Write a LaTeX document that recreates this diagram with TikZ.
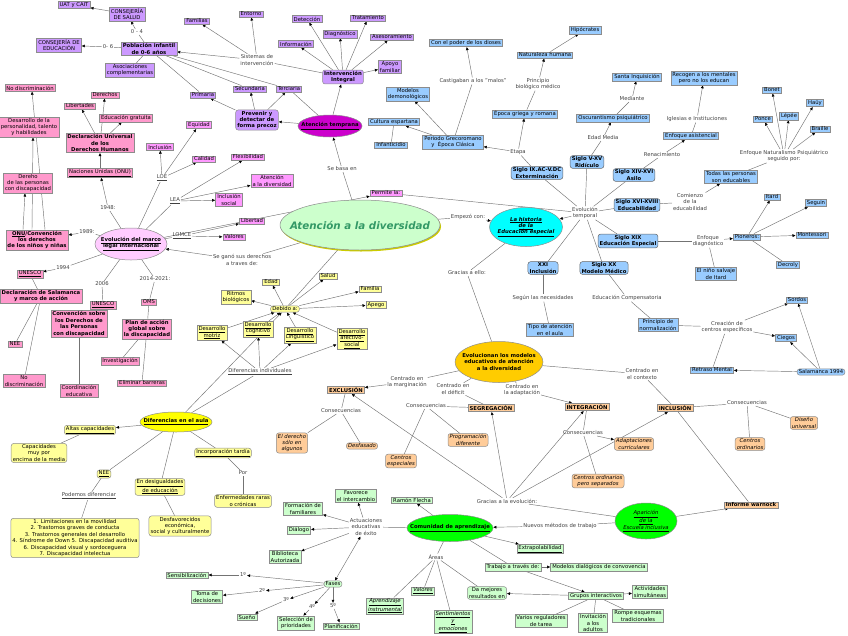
\documentclass[tikz,border=0pt]{standalone}
\usepackage{fontspec}
\setmainfont{DejaVu Sans}
\usetikzlibrary{arrows.meta, positioning, shapes.geometric, backgrounds, shadows}

\definecolor{lila}{RGB}{204,153,255}
\definecolor{rosa}{RGB}{255,153,204}
\definecolor{fucsia}{RGB}{255,153,255}
\definecolor{rosita}{RGB}{255,204,255}
\definecolor{magentao}{RGB}{204,0,204}
\definecolor{celeste}{RGB}{153,204,255}
\definecolor{cian}{RGB}{0,255,255}
\definecolor{crema}{RGB}{255,255,153}
\definecolor{amarillo}{RGB}{255,255,0}
\definecolor{oro}{RGB}{255,204,0}
\definecolor{durazno}{RGB}{255,204,153}
\definecolor{menta}{RGB}{204,255,204}
\definecolor{verdevivo}{RGB}{0,255,0}
\definecolor{verdeletra}{RGB}{51,153,102}

\begin{document}
\begin{tikzpicture}[x=1pt, y=-1pt,
    box/.style={draw=black!45, line width=0.5pt, inner xsep=1.6pt, inner ysep=1.1pt, align=center, font=\fontsize{5.3}{6.4}\selectfont},
    bold/.style={font=\fontsize{5.3}{6.4}\selectfont\bfseries},
    ital/.style={font=\fontsize{5.3}{6.4}\selectfont\itshape},
    rnd/.style={rounded corners=2.5pt},
    tempbox/.style={box, fill=lila},
    legbox/.style={box, fill=rosa},
    leybox/.style={box, fill=fucsia},
    hisbox/.style={box, fill=celeste},
    siglo/.style={box, fill=celeste, rnd, bold, draw=black!60},
    difbox/.style={box, fill=crema},
    modbox/.style={box, fill=durazno},
    comubox/.style={box, fill=menta},
    ell/.style={ellipse, draw=black!45, line width=0.5pt, inner sep=0pt},
    etx/.style={align=center, inner sep=0pt, font=\fontsize{5.3}{6.4}\selectfont\bfseries},
    lbl/.style={inner sep=0.8pt, align=center, text=black!75, font=\fontsize{5.3}{6.4}\selectfont},
    con/.style={draw=black!55, line width=0.45pt},
    arr/.style={con, -{Latex[length=3.2pt, width=3pt, color=black]}},
    dar/.style={con, {Latex[length=3.2pt, width=3pt, color=black]}-{Latex[length=3.2pt, width=3pt, color=black]}}
]
\useasboundingbox (0,0) rectangle (848,635);

\node[tempbox] (uat) at (74,5) {UAT y CAIT};
\node[tempbox] (csal) at (127,14) {CONSEJERÍA\\DE SALUD};
\node[tempbox] (cedu) at (59,45) {CONSEJERÍA DE\\EDUCACIÓN};
\node[tempbox, bold] (pobl) at (149,49) {Población infantil\\de 0-6 años};
\node[tempbox] (asoc) at (130,70) {Asociaciones\\complementarias};
\node[tempbox] (fami) at (197,21) {Familias};
\node[tempbox] (ento) at (251,14) {Entorno};
\node[tempbox] (prim) at (203,95) {Primaria};
\node[tempbox] (secu) at (250,89) {Secundaria};
\node[tempbox] (terc) at (289,89) {Terciaria};
\node[tempbox, bold, rnd] (prev) at (257,120) {Prevenir y\\detectar de\\forma precoz};
\node[tempbox] (info) at (296,44) {Información};
\node[tempbox] (dete) at (307,19) {Detección};
\node[tempbox] (diag) at (340,34) {Diagnóstico};
\node[tempbox] (trat) at (368,18) {Tratamiento};
\node[tempbox] (ases) at (392,37) {Asesoramiento};
\node[tempbox] (apoy) at (390,67) {Apoyo\\familiar};
\node[tempbox, bold, rnd] (inte) at (343,77) {Intervención\\Integral};
\node[ell, fill=magentao, minimum width=64pt, minimum height=22pt, label={[etx]center:\underline{Atención temprana}}] (atem) at (330,126) {};
\node[lbl] (l04) at (137,32) {0 - 4};
\node[lbl] (l06) at (108,47) {0- 6};
\node[lbl] (lsis) at (257,60) {Sistemas de\\intervención};
\node[lbl] (lbas) at (342,169) {Se basa en};

\node[legbox] (nod1) at (30,88) {No discriminación};
\node[legbox] (desa) at (29,127) {Desarrollo de la\\personalidad, talento\\y habilidades};
\node[legbox] (dere) at (28,183) {Dereho\\de las personas\\con discapacidad};
\node[legbox, bold] (onuc) at (37,240) {\underline{ONU}/Convención\\los derechos\\de los niños y niñas};
\node[legbox] (libs) at (80,106) {Libertades};
\node[legbox] (ders) at (105,95) {Derechos};
\node[legbox] (edug) at (126,118) {Educación gratuita};
\node[legbox, bold] (dudh) at (100,143) {Declaración Universal\\de los\\Derechos Humanos};
\node[legbox] (onu) at (100,173) {\underline{Naciones Unidas (ONU)}};
\node[ell, fill=rosita, minimum width=72pt, minimum height=32pt, label={[etx]center:{\underline{Evolución del marco}\\\underline{legal internacional}}}] (evol) at (131,244) {};
\node[legbox] (une1) at (30,274) {\underline{UNESCO}};
\node[legbox, bold] (dsal) at (41,296) {Declaración de Salamanca\\y marco de acción};
\node[legbox] (nee1) at (15,344) {NEE};
\node[legbox] (nod2) at (24,381) {No\\discriminación};
\node[legbox] (une2) at (103,305) {\underline{UNESCO}};
\node[legbox, bold] (conv) at (79,324) {Convención sobre\\los Derechos de\\las Personas\\con discapacidad};
\node[legbox] (coor) at (79,391) {Coordinación\\educativa};
\node[legbox] (oms) at (149,302) {OMS};
\node[legbox, bold] (plan) at (147,329) {Plan de acción\\global sobre\\la discapacidad};
\node[legbox] (inve) at (120,361) {Investigación};
\node[legbox] (elim) at (142,383) {Eliminar barreras};
\node[lbl] (l1948) at (108,208) {1948:};
\node[lbl] (l1989) at (87,232) {1989:};
\node[lbl] (l1994) at (63,268) {1994};
\node[lbl] (l2006) at (102,284) {2006};
\node[lbl] (l2014) at (155,279) {2014-2021:};

\node[leybox] (equi) at (199,125) {Equidad};
\node[leybox] (incl) at (160,147) {Inclusión};
\node[leybox] (cali) at (204,159) {Calidad};
\node[leybox] (flex) at (248,157) {Flexibilidad};
\node[leybox] (atdi) at (272,181) {Atención\\a la diversidad};
\node[leybox] (incs) at (229,200) {Inclusión\\social};
\node[leybox] (libe) at (252,221) {Libertad};
\node[leybox] (valo) at (234,237) {Valores};
\node[leybox] (perm) at (386,193) {Permite la:};
\node[lbl] (lloe) at (162,178) {\underline{LOE}};
\node[lbl] (llea) at (175,201) {\underline{LEA}};
\node[lbl] (llom) at (182,236) {\underline{LOMCE}};
\node[lbl] (lgan) at (242,260) {Se ganó sus derechos\\a traves de:};

\node[ell, fill=menta, drop shadow={fill=amarillo!80!black, opacity=1, shadow xshift=1pt, shadow yshift=-1.5pt}, minimum width=160pt, minimum height=50pt, label={[etx, font=\fontsize{10.3}{12}\selectfont\bfseries\itshape, text=verdeletra]center:Atención a la diversidad}] (atdiv) at (360,225) {};

\node[difbox] (edad) at (271,282) {Edad};
\node[difbox] (ritm) at (236,297) {Ritmos\\biológicos};
\node[difbox, rnd] (debi) at (285,309) {Debido a:};
\node[difbox] (salu) at (328,276) {Salud};
\node[difbox] (fmla) at (370,289) {Familia};
\node[difbox] (apeg) at (376,305) {Apego};
\node[difbox] (dmot) at (212,333) {\underline{Desarrollo}\\\underline{motriz}};
\node[difbox] (dcog) at (258,329) {\underline{Desarrollo}\\\underline{cognitivo}};
\node[difbox] (dlin) at (300,335) {\underline{Desarrollo}\\\underline{Linguistico}};
\node[difbox] (dafe) at (352,339) {\underline{Desarrollo}\\\underline{afectivo-}\\\underline{social}};
\node[lbl] (ldif) at (260,372) {\underline{Diferencias individuales}};
\node[ell, fill=amarillo, minimum width=72pt, minimum height=20pt, label={[etx]center:\underline{Diferencias en el aula}}] (difa) at (176,422) {};
\node[difbox, rnd] (altc) at (90,430) {\underline{Altas capacidades}};
\node[difbox, rnd] (capm) at (39,453) {Capacidades\\muy por\\encima de la media};
\node[difbox, rnd] (nee2) at (104,474) {\underline{NEE}};
\node[lbl] (lpod) at (89,496) {\underline{Podemos diferenciar}};
\node[difbox, rnd] (ende) at (160,487) {\underline{En desigualdades}\\\underline{de educación}};
\node[difbox, rnd] (inct) at (223,453) {\underline{Incorporación tardía}};
\node[lbl] (lpor) at (243,473) {Por};
\node[difbox, rnd] (enfr) at (243,501) {Enfermedades raras\\o crónicas};
\node[difbox, rnd] (lim) at (75,538) {1. Limitaciones en la movilidad\\2. Trastornos graves de conducta\\3. Trastornos generales del desarrollo\\4. Síndrome de Down 5. Discapacidad auditiva\\6. Discapacidad visual y sordoceguera\\7. Discapacidad intelectua};
\node[difbox, rnd] (desf) at (180,526) {Desfavorecidos\\económica,\\social y culturalmente};

\node[ell, fill=cian, minimum width=73pt, minimum height=39pt, label={[etx, font=\fontsize{5.3}{6.4}\selectfont\bfseries\itshape]center:{\underline{La historia}\\\underline{de la}\\\underline{Educación especial}}}] (hist) at (526,227) {};
\node[lbl] (lemp) at (468,217) {Empezó con:};
\node[lbl] (levt) at (585,213) {Evolución\\temporal};
\node[siglo] (s9) at (537,173) {Siglo IX.AC-V.DC\\Exterminación};
\node[siglo] (s5) at (587,162) {Siglo V-XV\\Ridículo};
\node[siglo] (s14) at (634,175) {Siglo XIV-XVI\\Asilo};
\node[siglo] (s16) at (637,205) {Siglo XVI-XVIII\\Educabilidad};
\node[siglo] (s19) at (628,241) {Siglo XIX\\Educación Especial};
\node[siglo] (s20) at (604,268) {Siglo XX\\Modelo Médico};
\node[siglo] (s21) at (543,268) {XXI\\Inclusión};
\node[lbl] (lseg) at (543,298) {Según las necesidades};
\node[hisbox] (tipo) at (550,330) {Tipo de atención\\en el aula};
\node[hisbox] (peri) at (453,142) {Periodo Grecoromano\\y\ \ Época Clásica};
\node[hisbox] (mode) at (408,94) {Modelos\\demonológicos};
\node[hisbox] (cult) at (394,122) {Cultura espartana};
\node[hisbox] (infa) at (391,145) {Infanticidio};
\node[hisbox] (pode) at (466,43) {Con el poder de los dioses};
\node[lbl] (lcas) at (473,81) {Castigaban a los "malos"};
\node[hisbox] (natu) at (545,55) {Naturaleza humana};
\node[lbl] (lpri) at (538,84) {Principio\\biológico médico};
\node[hisbox] (epoc) at (525,114) {Época griega y romana};
\node[hisbox] (hipo) at (585,30) {Hipócrates};
\node[lbl] (leta) at (518,152) {Etapa};
\node[hisbox] (sant) at (637,77) {Santa Inquisición};
\node[lbl] (lmed) at (632,99) {Mediante};
\node[hisbox] (oscu) at (613,118) {Oscurantismo psiquiátrico};
\node[lbl] (ledm) at (603,138) {Edad Media};
\node[hisbox] (reco) at (704,78) {Recogen a los mentales\\pero no los educan};
\node[lbl] (lige) at (697,119) {Iglesias e Instituciones};
\node[hisbox] (enfa) at (691,136) {Enfoque asistencial};
\node[lbl] (lren) at (662,155) {Renacimiento};
\node[lbl] (lcom) at (690,202) {Comienzo\\de la\\educabilidad};
\node[hisbox] (toda) at (731,177) {Todas las personas\\son educables};
\node[lbl] (lnat) at (784,156) {Enfoque Naturalismo Psiquiátrico\\seguido por:};
\node[hisbox] (bone) at (772,90) {Bonet};
\node[hisbox] (ponc) at (763,119) {Ponce};
\node[hisbox] (lepe) at (789,116) {Lépée};
\node[hisbox] (hauy) at (815,103) {Haüy};
\node[hisbox] (brai) at (820,129) {Braille};
\node[hisbox] (itar) at (772,197) {Itard};
\node[hisbox] (segu) at (816,203) {Seguin};
\node[lbl] (ldia) at (708,241) {Enfoque\\diagnóstico};
\node[hisbox] (pion) at (747,237) {Pioneros:};
\node[hisbox] (mont) at (812,235) {Montessori};
\node[hisbox] (decr) at (788,265) {Decroly};
\node[hisbox] (nino) at (716,274) {El niño salvaje\\de Itard};
\node[lbl] (lcmp) at (627,298) {Educación Compensatoria};
\node[hisbox] (prin) at (658,325) {Principio de\\normalización};
\node[lbl] (lcre) at (727,327) {Creación de\\centros específicos};
\node[hisbox] (sord) at (797,300) {Sordos};
\node[hisbox] (cieg) at (786,338) {Ciegos};
\node[hisbox] (retr) at (712,370) {Retraso Mental};
\node[hisbox, rnd] (sala) at (821,372) {Salamanca 1994};

\node[ell, fill=oro, minimum width=88pt, minimum height=41pt, label={[etx]center:{Evolucionan los modelos\\educativos de atención\\a la diversidad}}] (evmo) at (499,362) {};
\node[lbl] (lgra) at (467,273) {Gracias a ello:};
\node[lbl] (lmar) at (407,382) {Centrado en\\la marginación};
\node[modbox, bold] (excl) at (346,390) {EXCLUSIÓN};
\node[lbl] (ldef) at (453,389) {Centrado en\\el déficit};
\node[modbox, bold] (segr) at (491,408) {SEGREGACIÓN};
\node[lbl] (lada) at (522,390) {Centrado en\\la adaptación};
\node[modbox, bold] (integ) at (587,407) {INTEGRACIÓN};
\node[lbl] (lcon) at (642,374) {Centrado en\\el contexto};
\node[modbox, bold] (inclu) at (675,408) {INCLUSIÓN};
\node[lbl] (lcs1) at (341,411) {Consecuencias};
\node[lbl] (lcs2) at (426,406) {Consecuencias};
\node[lbl] (lcs3) at (583,433) {Consecuencias};
\node[lbl] (lcs4) at (747,403) {Consecuencias};
\node[modbox, rnd, ital] (dere2) at (292,443) {El derecho\\sólo en\\algunos};
\node[modbox, rnd, ital] (desf2) at (362,446) {Desfasado};
\node[modbox, rnd, ital] (cesp) at (401,461) {Centros\\especiales};
\node[modbox, rnd, ital] (prog) at (468,440) {Programación\\diferente};
\node[modbox, rnd, ital] (adap) at (634,444) {Adaptaciones\\curriculares};
\node[modbox, rnd, ital] (cops) at (598,481) {Centros ordinarios\\pero separados};
\node[modbox, rnd, ital] (cord) at (750,444) {Centros\\ordinarios};
\node[modbox, rnd, ital] (disu) at (804,423) {Diseño\\universal};
\node[modbox, bold] (warn) at (751,505) {Informe warnock};
\node[ell, fill=verdevivo, minimum width=62pt, minimum height=36pt, label={[etx, font=\fontsize{5.3}{6.4}\selectfont\itshape]center:{\underline{Aparición}\\\underline{de la}\\\underline{Escuela inclusiva}}}] (apar) at (646,521) {};
\node[lbl] (lgev) at (507,501) {Gracias a la evolución:};
\node[lbl] (lnue) at (560,526) {Nuevos métodos de trabajo};

\node[ell, fill=verdevivo, minimum width=86pt, minimum height=27pt, label={[etx]center:\underline{Comunidad de aprendizaje}}] (comu) at (450,528) {};
\node[comubox] (ramo) at (412,500) {Ramón Flecha};
\node[comubox] (favo) at (356,496) {Favorece\\el intercambio};
\node[comubox] (form) at (303,509) {Formación de\\familiares};
\node[lbl] (lact) at (366,527) {Actuaciones\\educativas\\de éxito};
\node[comubox] (dial) at (299,530) {Diálogo};
\node[comubox] (bibl) at (285,557) {Biblioteca\\Autorizada};
\node[comubox, rnd] (fase) at (333,584) {Fases};
\node[comubox] (sens) at (187,575) {Sensibilización};
\node[comubox] (toma) at (207,597) {Toma de\\decisiones};
\node[comubox] (suen) at (247,617) {Sueño};
\node[comubox] (sele) at (296,623) {Selección de\\prioridades};
\node[comubox] (plani) at (341,626) {Planificación};
\node[lbl] (l1) at (243,575) {1º};
\node[lbl] (l2) at (262,591) {2º};
\node[lbl] (l3) at (286,600) {3º};
\node[lbl] (l4) at (312,607) {4º};
\node[lbl] (l5) at (333,606) {5º};
\node[comubox] (extr) at (540,549) {\underline{Extrapolabilidad}};
\node[lbl] (lare) at (436,557) {Áreas};
\node[comubox] (trab) at (513,567) {Trabajo a través de:};
\node[comubox] (mdia) at (599,567) {Modelos dialógicos de convovencia};
\node[comubox, ital] (apri) at (385,606) {\underline{Aprendizaje}\\\underline{instrumental}};
\node[comubox, ital] (val2) at (423,591) {\underline{Valores}};
\node[comubox, ital] (sent) at (453,622) {\underline{Sentimientos}\\\underline{y}\\\underline{emociones}};
\node[comubox, rnd] (damr) at (487,593) {Da mejores\\resultados en};
\node[comubox] (grup) at (596,596) {Grupos interactivos};
\node[comubox] (acti) at (650,592) {Actividades\\simultáneas};
\node[comubox] (vari) at (541,621) {Varios reguladores\\de tarea};
\node[comubox] (invi) at (593,623) {Invitación\\a los\\adultos};
\node[comubox] (romp) at (638,616) {Rompe esquemas\\tradicionales};

\begin{scope}[on background layer]
\draw[arr] (csal) -- (uat);
\draw[con] (pobl) -- (l04); \draw[arr] (l04) -- (csal);
\draw[con] (pobl) -- (l06); \draw[arr] (l06) -- (cedu);
\draw[con] (pobl) -- (asoc);
\draw[con] (inte) -- (lsis);
\draw[arr] (lsis) -- (fami); \draw[arr] (lsis) -- (ento); \draw[arr] (lsis) -- (pobl);
\draw[con] (pobl) -- (prim); \draw[con] (pobl) -- (secu); \draw[con] (pobl) -- (terc);
\draw[arr] (prev) -- (prim); \draw[arr] (prev) -- (secu); \draw[arr] (prev) -- (terc);
\draw[arr] (atem) -- (prev); \draw[arr] (atem) -- (inte); \draw[con] (atem) -- (terc);
\draw[arr] (inte) -- (info); \draw[arr] (inte) -- (dete); \draw[arr] (inte) -- (diag);
\draw[arr] (inte) -- (trat); \draw[arr] (inte) -- (ases); \draw[arr] (inte) -- (apoy);
\draw[con] (atdiv) -- (lbas); \draw[arr] (lbas) -- (atem);

\draw[con] (evol) -- (l1948); \draw[arr] (l1948) -- (onu); \draw[arr] (onu) -- (dudh);
\draw[arr] (dudh) -- (libs); \draw[arr] (dudh) -- (ders); \draw[arr] (dudh) -- (edug);
\draw[con] (evol) -- (l1989); \draw[arr] (l1989) -- (onuc);
\draw[arr] ([xshift=-14pt]onuc.north) -- ([xshift=-3pt]dere.south);
\draw[arr] ([xshift=-5pt]onuc.north) -- ([xshift=4pt]desa.south);
\draw[arr] ([xshift=8pt]onuc.north) -- ([xshift=2pt]nod1.south);
\draw[con] (evol) -- (l1994); \draw[arr] (l1994) -- (une1); \draw[con] (une1) -- (dsal);
\draw[con] (dsal) -- (nee1); \draw[con] (dsal) -- (nod2);
\draw[con] (evol) -- (l2006); \draw[con] (l2006) -- (une2); \draw[con] (une2) -- (conv); \draw[con] (conv) -- (coor);
\draw[con] (evol) -- (l2014); \draw[con] (l2014) -- (oms); \draw[con] (oms) -- (plan);
\draw[con] (plan) -- (inve); \draw[con] (plan) -- (elim);
\draw[con] (evol) -- (lloe); \draw[arr] (lloe) -- (incl); \draw[arr] (lloe) -- (equi); \draw[arr] (lloe) -- (cali);
\draw[con] (evol) -- (llea); \draw[arr] (llea) -- (flex); \draw[arr] (llea) -- (atdi); \draw[arr] (llea) -- (incs);
\draw[con] (evol) -- (llom); \draw[arr] (llom) -- (libe); \draw[arr] (llom) -- (valo);
\draw[arr] (evol) -- (perm); \draw[con] (perm) -- (levt);
\draw[con] (atdiv) -- (lgan); \draw[arr] (lgan) -- (evol);

\draw[con] (atdiv) -- (debi);
\draw[arr] (debi) -- (edad); \draw[arr] (debi) -- (ritm); \draw[arr] (debi) -- (salu);
\draw[arr] (debi) -- (fmla); \draw[arr] (debi) -- (apeg);
\draw[arr] (dmot) -- (debi); \draw[arr] (dcog) -- (debi); \draw[arr] (dlin) -- (debi); \draw[arr] (dafe) -- (debi);
\draw[arr] (difa) -- (debi);
\draw[con] (difa) -- (ldif);
\draw[arr] (ldif) -- (dmot); \draw[arr] (ldif) -- (dcog); \draw[arr] (ldif) -- (dlin); \draw[arr] (ldif) -- (dafe);
\draw[arr] (difa) -- (altc); \draw[con] (altc) -- (capm);
\draw[con] (difa) -- (nee2); \draw[con] (nee2) -- (lpod); \draw[con] (lpod) -- (lim);
\draw[con] (difa) -- (ende); \draw[con] (ende) -- (desf);
\draw[con] (difa) -- (inct); \draw[con] (inct) -- (lpor); \draw[con] (lpor) -- (enfr);

\draw[con] (atdiv) -- (lemp); \draw[arr] (lemp) -- (hist);
\draw[arr] (levt) -- (hist);
\draw[con] (levt) -- (s9); \draw[con] (levt) -- (s5); \draw[con] (levt) -- (s14); \draw[con] (levt) -- (s16);
\draw[con] (levt) -- (s19); \draw[con] (levt) -- (s20); \draw[con] (levt) -- (s21);
\draw[con] (s9) -- (leta); \draw[arr] (leta) -- (peri); \draw[arr] (leta) -- (epoc);
\draw[arr] (peri) -- (mode); \draw[arr] (peri) -- (cult); \draw[con] (cult) -- (infa);
\draw[con] (peri) -- (lcas); \draw[arr] (lcas) -- (pode);
\draw[con] (epoc) -- (lpri); \draw[arr] (lpri) -- (natu); \draw[arr] (natu) -- (hipo);
\draw[con] (s5) -- (ledm); \draw[arr] (ledm) -- (oscu); \draw[con] (oscu) -- (lmed); \draw[arr] (lmed) -- (sant);
\draw[con] (s14) -- (lren); \draw[arr] (lren) -- (enfa); \draw[con] (enfa) -- (lige); \draw[arr] (lige) -- (reco);
\draw[con] (s16) -- (lcom); \draw[arr] (lcom) -- (toda); \draw[con] (toda) -- (lnat);
\draw[arr] (lnat) -- (bone); \draw[arr] (lnat) -- (ponc); \draw[arr] (lnat) -- (lepe);
\draw[arr] (lnat) -- (hauy); \draw[arr] (lnat) -- (brai);
\draw[con] (s19) -- (ldia); \draw[arr] (ldia) -- (pion); \draw[con] (ldia) -- (nino);
\draw[arr] (pion) -- (itar); \draw[arr] (pion) -- (segu); \draw[arr] (pion) -- (mont); \draw[con] (pion) -- (decr);
\draw[con] (s20) -- (lcmp); \draw[con] (lcmp) -- (prin);
\draw[con] (prin) -- (lcre); \draw[arr] (lcre) -- (sord); \draw[arr] (lcre) -- (cieg); \draw[con] (lcre) -- (retr);
\draw[arr] (sala) -- (sord); \draw[arr] (sala) -- (cieg); \draw[arr] (sala) -- (retr);
\draw[con] (s21) -- (lseg); \draw[con] (lseg) -- (tipo);
\draw[con] (hist) -- (lgra); \draw[con] (lgra) -- (evmo);

\draw[con] (evmo) -- (lmar); \draw[arr] (lmar) -- (excl);
\draw[con] (evmo) -- (ldef); \draw[con] (ldef) -- (segr);
\draw[con] (evmo) -- (lada); \draw[arr] (lada) -- (integ);
\draw[con] (evmo) -- (lcon); \draw[con] (lcon) -- (inclu);
\draw[con] (excl) -- (lcs1); \draw[con] (lcs1) -- (dere2); \draw[con] (lcs1) -- (desf2);
\draw[con] (segr) -- (lcs2); \draw[con] (lcs2) -- (cesp); \draw[con] (lcs2) -- (prog);
\draw[con] (integ) -- (lcs3); \draw[arr] (lcs3) -- (adap); \draw[con] (lcs3) -- (cops);
\draw[con] (inclu) -- (lcs4); \draw[con] (lcs4) -- (cord); \draw[con] (lcs4) -- (disu);
\draw[con] (apar) -- (lgev);
\draw[arr] (lgev) -- (excl); \draw[arr] (lgev) -- (segr); \draw[arr] (lgev) -- (integ); \draw[arr] (lgev) -- (inclu);
\draw[arr] (apar) -- (warn); \draw[con] (warn) -- (inclu);
\draw[con] (apar) -- (lnue); \draw[arr] (lnue) -- (comu);

\draw[arr] (comu) -- (ramo);
\draw[con] (comu) -- (lact);
\draw[arr] (lact) -- (favo); \draw[arr] (lact) -- (form); \draw[arr] (lact) -- (dial); \draw[arr] (lact) -- (bibl);
\draw[dar] (lact) -- (fase);
\draw[arr] (fase) -- (l1); \draw[arr] (l1) -- (sens);
\draw[arr] (fase) -- (l2); \draw[arr] (l2) -- (toma);
\draw[arr] (fase) -- (l3); \draw[arr] (l3) -- (suen);
\draw[arr] (fase) -- (l4); \draw[arr] (l4) -- (sele);
\draw[arr] (fase) -- (l5); \draw[arr] (l5) -- (plani);
\draw[arr] (comu) -- (extr);
\draw[con] (comu) -- (trab); \draw[arr] (trab) -- (mdia); \draw[arr] (trab) -- (grup);
\draw[con] (comu) -- (lare);
\draw[con] (lare) -- (apri); \draw[con] (lare) -- (val2); \draw[con] (lare) -- (sent); \draw[con] (lare) -- (damr);
\draw[arr] (grup) -- (damr); \draw[arr] (grup) -- (acti);
\draw[con] (grup) -- (vari); \draw[con] (grup) -- (invi); \draw[con] (grup) -- (romp);
\end{scope}
\end{tikzpicture}
\end{document}
